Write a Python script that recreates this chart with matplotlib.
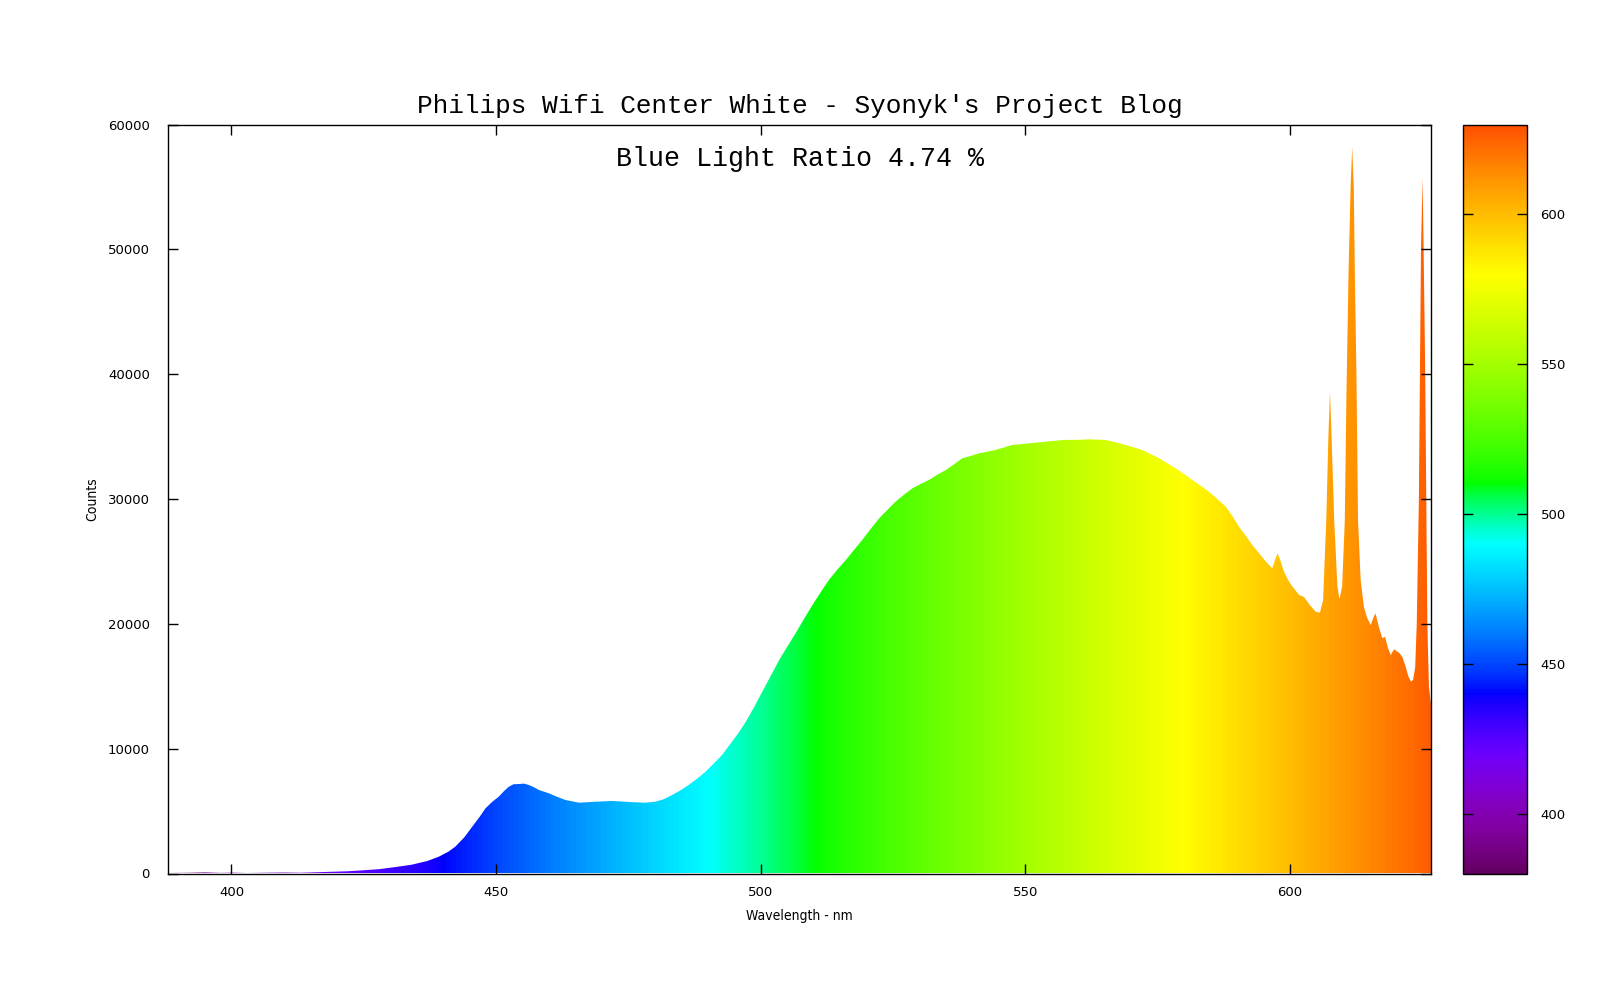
import numpy as np
import matplotlib
matplotlib.use('Agg')
import matplotlib.pyplot as plt
from matplotlib.colors import LinearSegmentedColormap, Normalize
from matplotlib.patches import Polygon

# spectrum
wavelength = [388, 392, 395, 398, 400, 403, 406, 410, 413, 416, 419, 422, 425, 428, 431, 434, 437,
              439.2, 441, 442.3, 444, 445.5, 447, 448, 449.3, 450.5, 451.5, 452.4, 453.3, 454.3,
              455.3, 456.2, 457.2, 458.1, 460, 461.5, 463.1, 465.7, 468.8, 471.9, 475.1, 478.2,
              480.1, 481.7, 483.3, 485, 486.4, 488, 489.6, 491, 492.7, 494.3, 495.8, 497.2, 498.8,
              500.3, 502, 503.5, 505, 506.6, 508.2, 509.8, 511.3, 512.9, 514.5, 516.1, 517.7,
              519.2, 520.8, 522.4, 524, 525.5, 527.1, 528.7, 530.2, 531.8, 533.4, 535, 536.6,
              538.1, 539.7, 541.3, 544.4, 547.6, 550.7, 553.9, 557.2, 560.2, 562.1, 565.2, 567,
              569, 572.1, 575.3, 578.4, 580, 581.6, 583.2, 584.7, 586.3, 587.9, 589.2, 590.4,
              591.7, 592.9, 594.2, 595.5, 596.7, 597.2, 597.7, 598.2, 598.9, 599.7, 600.5, 601.8,
              602.7, 603.8, 604.9, 605.7, 606.3, 606.9, 607.3, 607.6, 607.9, 608.4, 609.0, 609.4,
              609.9, 610.4, 610.7, 611.1, 611.5, 611.8, 612.1, 612.3, 612.6, 612.9, 613.4, 614.0,
              614.6, 615.3, 615.8, 616.2, 616.8, 617.5, 618.0, 618.6, 619.1, 619.7, 620.7, 621.3,
              621.9, 622.4, 622.9, 623.3, 623.7, 624.0, 624.4, 624.6, 624.8, 625.1, 625.3, 625.6,
              625.8, 626.0, 626.3, 626.7]
counts = [40, 60, 90, 50, 70, 40, 60, 80, 60, 100, 140, 180, 260, 350, 520, 700, 1000,
          1350, 1750, 2150, 2900, 3750, 4600, 5220, 5750, 6150, 6600, 6950, 7150, 7170,
          7200, 7090, 6900, 6690, 6420, 6150, 5890, 5670, 5750, 5810, 5730, 5670,
          5750, 5950, 6290, 6700, 7090, 7600, 8160, 8750, 9490, 10400, 11250, 12160, 13350,
          14560, 15900, 17100, 18150, 19240, 20400, 21510, 22500, 23510, 24350, 25110, 25950,
          26720, 27600, 28450, 29150, 29790, 30350, 30860, 31200, 31520, 31950, 32320, 32800,
          33260, 33450, 33660, 33930, 34330, 34460, 34590, 34730, 34740, 34780, 34730, 34550,
          34330, 33930, 33260, 32460, 32000, 31520, 31050, 30590, 30000, 29390, 28600, 27780,
          27050, 26320, 25650, 24980, 24450, 25100, 25650, 25100, 24180, 23500, 22980, 22300,
          22150, 21500, 20970, 20890, 21900, 28300, 35000, 38600, 35000, 28300, 23000, 21960,
          23000, 28300, 38000, 48000, 55000, 58200, 55000, 48000, 40000, 28300, 23500, 21370,
          20500, 19900, 20500, 20840, 19800, 18840, 18970, 18000, 17500, 17960, 17670, 17320,
          16570, 15800, 15370, 15500, 16500, 20000, 30000, 40000, 50000, 55700, 50000, 40000,
          30000, 20000, 15000, 13500]

xticks = [400, 450, 500, 550, 600]
yticks = [0, 10000, 20000, 30000, 40000, 50000, 60000]
cbticks = [400, 450, 500, 550, 600]


def wl_rgb(w):
    # visible wavelength -> rgb (Bruton style)
    if w < 440:
        r, g, b = (440 - w) / 60.0, 0.0, 1.0
    elif w < 490:
        r, g, b = 0.0, (w - 440) / 50.0, 1.0
    elif w < 510:
        r, g, b = 0.0, 1.0, (510 - w) / 20.0
    elif w < 580:
        r, g, b = (w - 510) / 70.0, 1.0, 0.0
    else:
        r, g, b = 1.0, (645 - w) / 65.0, 0.0
    f = 1.0
    if w < 420:
        f = 0.3 + 0.7 * (w - 380) / 40.0
    return tuple((max(c, 0.0) * f) ** 0.8 for c in (r, g, b))


cmap = LinearSegmentedColormap.from_list('spec', [wl_rgb(w) for w in np.linspace(380, 630, 251)])
norm = Normalize(380, 630)

fig = plt.figure(figsize=(16, 10), dpi=100)
ax = fig.add_axes([0.105, 0.1265, 0.7894, 0.749])
cax = fig.add_axes([0.9145, 0.1265, 0.0397, 0.749])

xmin, xmax = 388, 626.7
grad = np.linspace(xmin, xmax, 1200).reshape(1, -1)
im = ax.imshow(grad, cmap=cmap, norm=norm, extent=[xmin, xmax, 0, 60000],
               aspect='auto', origin='lower', interpolation='bilinear', zorder=1)
poly = Polygon(list(zip([wavelength[0]] + wavelength + [wavelength[-1]],
                        [0] + counts + [0])), closed=True, facecolor='none', edgecolor='none')
ax.add_patch(poly)
im.set_clip_path(poly)

ax.set_xlim(xmin, xmax)
ax.set_ylim(0, 60000)
ax.set_xticks(xticks)
ax.set_yticks(yticks)
ax.tick_params(direction='in', length=7, width=1, top=True, right=True,
               labelsize=9.5, pad=9)
ax.tick_params(axis='y', pad=13)
for s in ax.spines.values():
    s.set_linewidth(1)

ax.set_xlabel('Wavelength - nm', family='DejaVu Sans', stretch='condensed', fontsize=10, labelpad=7)
ax.set_ylabel('Counts', family='DejaVu Sans', stretch='condensed', fontsize=10, labelpad=6)
ax.set_title("Philips Wifi Center White - Syonyk's Project Blog", family='Liberation Mono',
             fontsize=18.8, pad=8)
ax.text(0.5, 0.954, 'Blue Light Ratio 4.74 %', transform=ax.transAxes, ha='center', va='center',
        family='Liberation Mono', fontsize=19.2)

sm = plt.cm.ScalarMappable(norm=norm, cmap=cmap)
cb = fig.colorbar(sm, cax=cax, ticks=cbticks)
cb.outline.set_linewidth(1)
cax.tick_params(direction='in', length=7, width=1, left=True, right=True, labelsize=9.5, pad=10)

fig.savefig('out.png', dpi=100)
